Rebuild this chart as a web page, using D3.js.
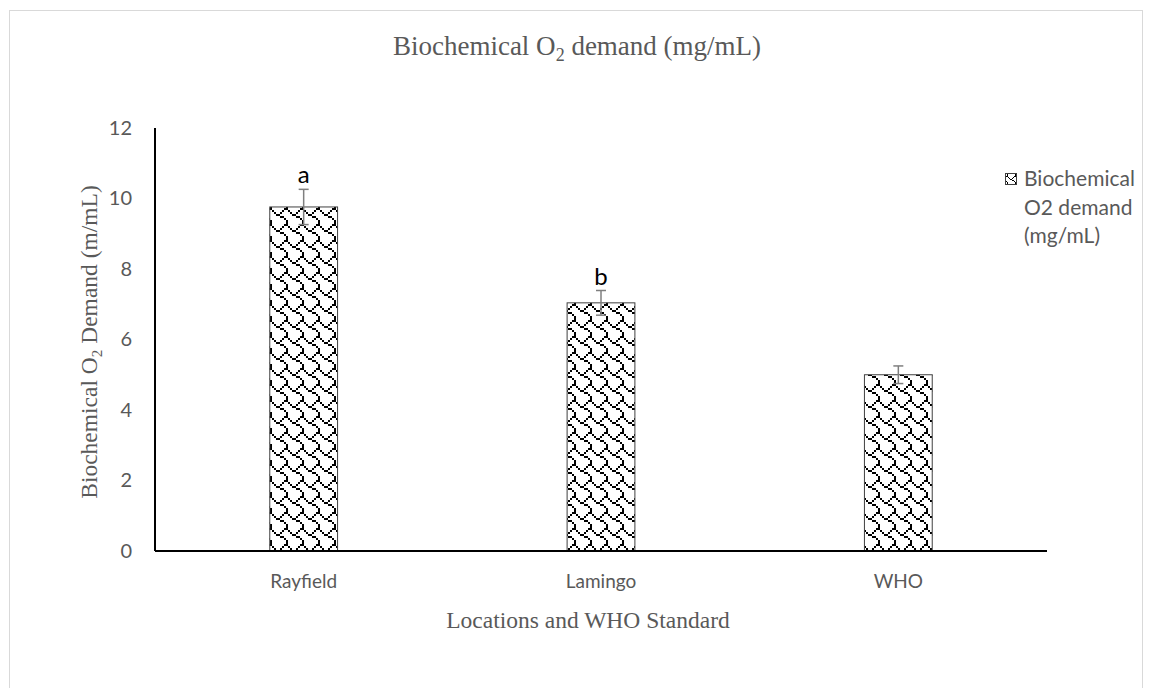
<!DOCTYPE html>
<html><head><meta charset="utf-8">
<script src="https://cdn.jsdelivr.net/npm/d3@7/dist/d3.min.js"></script>
<style>body{margin:0;background:#fff}svg{display:block}</style>
</head><body><svg id="c" width="1152" height="688"></svg>
<script>
const categories = ["Rayfield", "Lamingo", "WHO"];
const values = [9.76, 7.04, 5.0];
const errors = [0.5, 0.35, 0.25];
const letters = ["a", "b", ""];
const yTicks = [0, 2, 4, 6, 8, 10, 12];
const shingleRows = [0x03, 0x84, 0x48, 0x30, 0x0C, 0x02, 0x01, 0x01];

const svg = d3.select("#c");
const m = {left:155, right:1047, top:128, bottom:551};
const gray = "#595959";
const serif = "Liberation Serif, Times New Roman, serif";
const sans = "Lato, Open Sans, sans-serif";

// outer border
svg.append("rect").attr("x",9.5).attr("y",10.5).attr("width",1133).attr("height",700)
  .attr("fill","none").attr("stroke","#d9d9d9");

// pattern
const defs = svg.append("defs");
const pat = defs.append("pattern").attr("id","shingle").attr("patternUnits","userSpaceOnUse")
  .attr("width",16).attr("height",16);
pat.append("rect").attr("width",16).attr("height",16).attr("fill","#fff");
shingleRows.forEach((bits,r)=>{
  for(let c=0;c<8;c++){
    if(bits & (0x80>>c)) pat.append("rect").attr("x",c*2).attr("y",r*2).attr("width",2).attr("height",2).attr("fill","#000");
  }
});
const pat2 = defs.append("pattern").attr("id","shingleSmall").attr("patternUnits","userSpaceOnUse")
  .attr("width",8).attr("height",8);
pat2.append("rect").attr("width",8).attr("height",8).attr("fill","#fff");
shingleRows.forEach((bits,r)=>{
  for(let c=0;c<8;c++){
    if(bits & (0x80>>c)) pat2.append("rect").attr("x",c).attr("y",r).attr("width",1).attr("height",1).attr("fill","#000");
  }
});

const x = d3.scaleBand().domain(categories).range([m.left, m.right]).padding(0);
const y = d3.scaleLinear().domain([0,12]).range([m.bottom, m.top]);
const barW = x.bandwidth()*0.228;

// title
const t = svg.append("text").attr("x",577).attr("y",55).attr("text-anchor","middle")
  .attr("font-family",serif).attr("font-size",27).attr("fill",gray);
t.append("tspan").text("Biochemical O");
t.append("tspan").attr("font-size",18).attr("dy",6).text("2");
t.append("tspan").attr("dy",-6).text(" demand (mg/mL)");

// bars
const bars = svg.append("g");
categories.forEach((cat,i)=>{
  const cx = x(cat)+x.bandwidth()/2;
  bars.append("rect").attr("x",cx-barW/2).attr("y",y(values[i])).attr("width",barW)
    .attr("height",y(0)-y(values[i])).attr("fill","url(#shingle)").attr("stroke","#404040").attr("stroke-width",1);
  const eg = bars.append("g").attr("stroke","#7f7f7f").attr("stroke-width",1.5);
  eg.append("line").attr("x1",cx).attr("x2",cx).attr("y1",y(values[i]+errors[i])).attr("y2",y(values[i]-errors[i]));
  eg.append("line").attr("x1",cx-5).attr("x2",cx+5).attr("y1",y(values[i]+errors[i])).attr("y2",y(values[i]+errors[i]));
  eg.append("line").attr("x1",cx-5).attr("x2",cx+5).attr("y1",y(values[i]-errors[i])).attr("y2",y(values[i]-errors[i]));
  if(letters[i]) svg.append("text").attr("x",cx).attr("y",y(values[i]+errors[i])-6).attr("text-anchor","middle")
    .attr("font-family",sans).attr("font-size",24).attr("fill","#000").text(letters[i]);
});

// axes
const yAxis = d3.axisLeft(y).tickValues(yTicks).tickSize(0).tickPadding(23);
const gy = svg.append("g").attr("transform",`translate(${m.left},0)`).call(yAxis);
gy.select(".domain").remove();
gy.selectAll("text").attr("font-family",sans).attr("font-size",20).attr("fill",gray);
svg.append("line").attr("x1",m.left).attr("x2",m.left).attr("y1",m.top).attr("y2",m.bottom).attr("stroke","#000").attr("stroke-width",2);

const xAxis = d3.axisBottom(x).tickSize(0).tickPadding(24);
const gx = svg.append("g").attr("transform",`translate(0,${m.bottom})`).call(xAxis);
gx.select(".domain").remove();
gx.selectAll("text").attr("font-family",sans).attr("font-size",19).attr("fill",gray);
svg.append("line").attr("x1",m.left).attr("x2",m.right).attr("y1",m.bottom).attr("y2",m.bottom).attr("stroke","#000").attr("stroke-width",2);

// axis titles
svg.append("text").attr("x",588).attr("y",628).attr("text-anchor","middle")
  .attr("font-family",serif).attr("font-size",23.5).attr("fill",gray)
  .text("Locations and WHO Standard");
const yt = svg.append("text").attr("transform","translate(97,342) rotate(-90)").attr("text-anchor","middle")
  .attr("font-family",serif).attr("font-size",23.5).attr("fill",gray);
yt.append("tspan").text("Biochemical O");
yt.append("tspan").attr("font-size",15).attr("dy",5).text("2");
yt.append("tspan").attr("dy",-5).text(" Demand (m/mL)");

// legend
const lg = svg.append("g");
lg.append("rect").attr("x",1005.5).attr("y",173.5).attr("width",11).attr("height",11)
  .attr("fill","url(#shingleSmall)").attr("stroke","#404040");
const legendLines = ["Biochemical","O2 demand","(mg/mL)"];
legendLines.forEach((s,i)=>lg.append("text").attr("x",1024).attr("y",186+i*28.5)
  .attr("font-family",sans).attr("font-size",21).attr("fill",gray).text(s));
</script></body></html>
